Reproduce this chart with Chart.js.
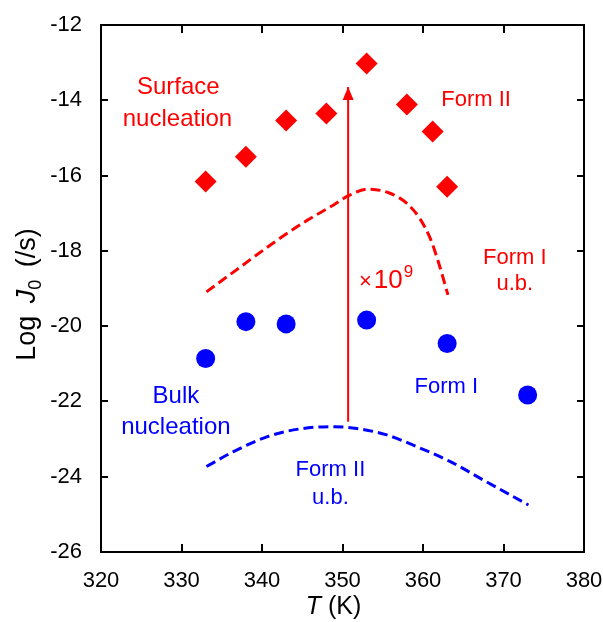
<!DOCTYPE html>
<html>
<head>
<meta charset="utf-8">
<script src="https://cdn.jsdelivr.net/npm/chart.js@4.4.1/dist/chart.umd.min.js"></script>
<style>
  body { margin: 0; background: #fff; }
  canvas { display: block; }
</style>
</head>
<body>
<canvas id="chart" width="603" height="622"></canvas>
<script>
// Datos
const surfaceT = [333, 338, 343, 348, 353, 358, 361.2, 363];
const surfaceLogJ = [-16.16, -15.5, -14.54, -14.35, -13.02, -14.11, -14.83, -16.3];

const bulkT = [333, 338, 343, 353, 363, 373];
const bulkLogJ = [-20.86, -19.88, -19.94, -19.84, -20.46, -21.83];

const formIUbT = [333.1, 337.3, 341.4, 345.6, 348.9, 350.7, 353.2, 355.9, 358.0, 359.6, 360.9, 361.9, 363.1];
const formIUbLogJ = [-19.09, -18.43, -17.79, -17.19, -16.78, -16.54, -16.36, -16.47, -16.74, -17.14, -17.67, -18.29, -19.17];

const formIIUbT = [333.1, 336.4, 340.6, 344.7, 348.9, 351.8, 355.5, 359.2, 363.4, 367.5, 373.1];
const formIIUbLogJ = [-23.73, -23.34, -22.94, -22.73, -22.67, -22.72, -22.89, -23.2, -23.6, -24.09, -24.75];

const arrowT = [350.7, 350.7];
const arrowLogJ = [-22.54, -13.65];

const xTicks = [320, 330, 340, 350, 360, 370, 380];
const yTicks = [-26, -24, -22, -20, -18, -16, -14, -12];

const RED = '#ff0000';
const BLUE = '#0000ff';
const FONT = "'Liberation Sans', Arial, sans-serif";

// Textos dentro del gráfico (en coordenadas de datos)
const notes = [
    { text: 'Surface', x: 329.6, y: -13.83, color: RED, size: 24 },
    { text: 'nucleation', x: 329.5, y: -14.68, color: RED, size: 24 },
    { text: 'Form II', x: 366.6, y: -14.15, color: RED, size: 22 },
    { text: 'Form I', x: 371.4, y: -18.35, color: RED, size: 22 },
    { text: 'u.b.', x: 371.4, y: -19.04, color: RED, size: 22 },
    { text: 'Bulk', x: 329.3, y: -22.04, color: BLUE, size: 24 },
    { text: 'nucleation', x: 329.3, y: -22.87, color: BLUE, size: 24 },
    { text: 'Form I', x: 362.9, y: -21.78, color: BLUE, size: 22 },
    { text: 'Form II', x: 348.5, y: -23.98, color: BLUE, size: 22 },
    { text: 'u.b.', x: 348.5, y: -24.73, color: BLUE, size: 22 }
];
const factorNote = { x: 352.05, y: -18.99 };

const toPoints = (xs, ys) => xs.map((x, i) => ({ x: x, y: ys[i] }));

// dibuja trozos de texto seguidos: [texto, fuente, desplazamiento vertical, hueco extra]
function drawParts(ctx, parts, startX) {
    let x = startX;
    parts.forEach(p => {
        ctx.font = p[1] + FONT;
        ctx.fillText(p[0], x, p[2]);
        x += ctx.measureText(p[0]).width + p[3];
    });
}

function partsWidth(ctx, parts) {
    let total = 0;
    parts.forEach(p => {
        ctx.font = p[1] + FONT;
        total += ctx.measureText(p[0]).width + p[3];
    });
    return total;
}

const decorations = {
    id: 'decorations',
    afterDatasetsDraw: (chart) => {
        const ctx = chart.ctx;
        const xs = chart.scales.x;
        const ys = chart.scales.y;
        const area = chart.chartArea;
        ctx.save();

        // punta de la flecha
        const ax = xs.getPixelForValue(arrowT[1]);
        const ay = ys.getPixelForValue(arrowLogJ[1]);
        ctx.fillStyle = RED;
        ctx.beginPath();
        ctx.moveTo(ax, ay);
        ctx.lineTo(ax - 5.5, ay + 13);
        ctx.lineTo(ax + 5.5, ay + 13);
        ctx.closePath();
        ctx.fill();

        // textos
        ctx.textBaseline = 'alphabetic';
        notes.forEach(n => {
            ctx.font = n.size + 'px ' + FONT;
            ctx.fillStyle = n.color;
            ctx.textAlign = 'center';
            ctx.fillText(n.text, xs.getPixelForValue(n.x), ys.getPixelForValue(n.y));
        });

        // ×10^9
        ctx.textAlign = 'left';
        ctx.fillStyle = RED;
        let fx = xs.getPixelForValue(factorNote.x);
        const fy = ys.getPixelForValue(factorNote.y);
        ctx.font = '22px ' + FONT;
        ctx.fillText('\u00d7', fx, fy);
        fx += ctx.measureText('\u00d7').width + 2;
        ctx.font = '26px ' + FONT;
        ctx.fillText('10', fx, fy);
        fx += ctx.measureText('10').width;
        ctx.font = '17px ' + FONT;
        ctx.fillText('9', fx + 1, fy - 11);

        // marco y marcas hacia dentro
        ctx.strokeStyle = '#000';
        ctx.lineWidth = 2;
        ctx.strokeRect(area.left, area.top, area.right - area.left, area.bottom - area.top);
        ctx.beginPath();
        xTicks.forEach(t => {
            const px = Math.round(xs.getPixelForValue(t));
            ctx.moveTo(px, area.bottom);
            ctx.lineTo(px, area.bottom - 8);
            ctx.moveTo(px, area.top);
            ctx.lineTo(px, area.top + 8);
        });
        yTicks.forEach(t => {
            const py = Math.round(ys.getPixelForValue(t));
            ctx.moveTo(area.left, py);
            ctx.lineTo(area.left + 7, py);
            ctx.moveTo(area.right, py);
            ctx.lineTo(area.right - 7, py);
        });
        ctx.stroke();

        // títulos de ejes
        ctx.fillStyle = '#000';
        ctx.textAlign = 'left';
        const xParts = [['T', 'italic 25px ', 0, 0], [' (K)', '25px ', 0, 0]];
        ctx.save();
        ctx.translate((area.left + area.right) / 2 - 9, 614);
        drawParts(ctx, xParts, -partsWidth(ctx, xParts) / 2);
        ctx.restore();

        const yParts = [
            ['Log ', '27px ', 0, 5],
            ['J', 'italic 27px ', 0, 0],
            ['0', '18px ', 6, 5],
            [' (/s)', '27px ', 0, 0]
        ];
        ctx.translate(35, (area.top + area.bottom) / 2 + 6);
        ctx.rotate(-Math.PI / 2);
        drawParts(ctx, yParts, -partsWidth(ctx, yParts) / 2);
        ctx.restore();
    }
};

const config = {
    type: 'scatter',
    data: {
        datasets: [
            {
                label: 'Form I u.b.',
                data: toPoints(formIUbT, formIUbLogJ),
                showLine: true,
                cubicInterpolationMode: 'monotone',
                borderColor: RED,
                borderWidth: 3,
                borderDash: [10, 5],
                pointRadius: 0
            },
            {
                label: 'Form II u.b.',
                data: toPoints(formIIUbT, formIIUbLogJ),
                showLine: true,
                cubicInterpolationMode: 'monotone',
                borderColor: BLUE,
                borderWidth: 3,
                borderDash: [10, 5],
                pointRadius: 0
            },
            {
                label: 'x10^9',
                data: toPoints(arrowT, arrowLogJ),
                showLine: true,
                borderColor: RED,
                borderWidth: 2,
                pointRadius: 0
            },
            {
                label: 'Surface nucleation (Form II)',
                data: toPoints(surfaceT, surfaceLogJ),
                pointStyle: 'rectRot',
                pointRadius: 11,
                backgroundColor: RED,
                borderColor: RED,
                borderWidth: 0
            },
            {
                label: 'Bulk nucleation (Form I)',
                data: toPoints(bulkT, bulkLogJ),
                pointStyle: 'circle',
                pointRadius: 9.5,
                backgroundColor: BLUE,
                borderColor: BLUE,
                borderWidth: 0
            }
        ]
    },
    options: {
        responsive: false,
        animation: false,
        layout: { padding: { left: 0, top: 25, right: 19, bottom: 0 } },
        plugins: {
            legend: { display: false },
            tooltip: { enabled: false }
        },
        scales: {
            x: {
                type: 'linear',
                min: 320,
                max: 380,
                afterFit: (scale) => {
                    scale.height = 70;
                    scale.paddingLeft = 0;
                    scale.paddingRight = 0;
                },
                afterBuildTicks: (scale) => { scale.ticks = xTicks.map(v => ({ value: v })); },
                grid: { display: false, drawTicks: false },
                border: { display: false },
                ticks: { color: '#000', padding: 16, font: { size: 22, family: FONT } }
            },
            y: {
                type: 'linear',
                min: -26,
                max: -12,
                afterFit: (scale) => {
                    scale.width = 101;
                    scale.paddingTop = 0;
                    scale.paddingBottom = 0;
                },
                afterBuildTicks: (scale) => { scale.ticks = yTicks.map(v => ({ value: v })); },
                grid: { display: false, drawTicks: false },
                border: { display: false },
                ticks: { color: '#000', padding: 19, font: { size: 22, family: FONT } }
            }
        }
    },
    plugins: [decorations]
};

new Chart(document.getElementById('chart'), config);
</script>
</body>
</html>
